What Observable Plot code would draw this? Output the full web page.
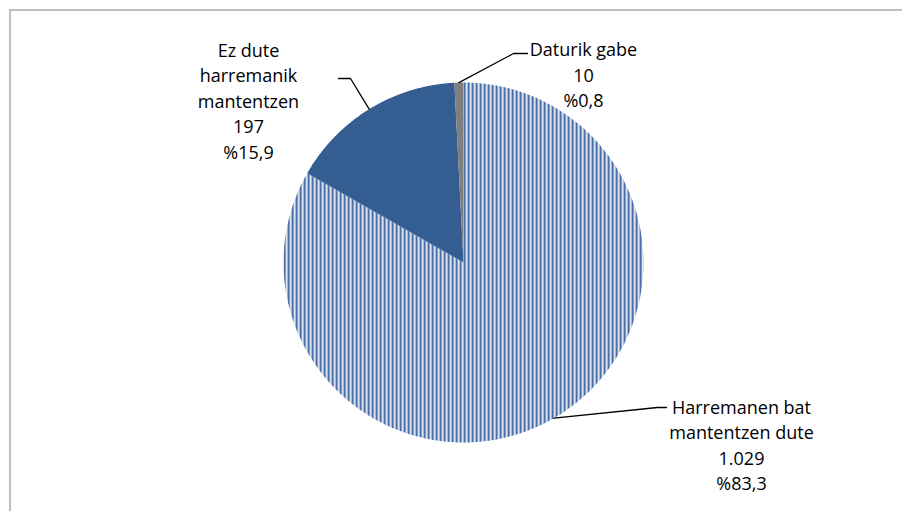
<!DOCTYPE html>
<html>
<head>
<meta charset="utf-8">
<script src="https://cdn.jsdelivr.net/npm/d3@7"></script>
<script src="https://cdn.jsdelivr.net/npm/@observablehq/plot@0.6"></script>
<style>
  html, body { margin: 0; padding: 0; background: #fff; overflow: hidden; }
  #wrap { position: relative; width: 902px; height: 511px; }
  #border { position: absolute; left: 9px; top: 9px; width: 1000px; height: 1000px;
            border-left: 2.5px solid #BFBFBF; border-top: 2.5px solid #BFBFBF; pointer-events: none; }
</style>
</head>
<body>
<div id="wrap"><div id="border"></div></div>
<script>
// ---- data ----
const categories = ["Harremanen bat mantentzen dute", "Ez dute harremanik mantentzen", "Daturik gabe"];
const counts = [1029, 197, 10];
const countLabels = ["1.029", "197", "10"];
const percentLabels = ["%83,3", "%15,9", "%0,8"];
const nameLines = [["Harremanen bat", "mantentzen dute"], ["Ez dute", "harremanik", "mantentzen"], ["Daturik gabe"]];

// ---- layout / styles ----
const cx = 463, cy = 262, r = 180;
const fills = ["url(#stripes)", "#345E91", "#7F7F7F"];
// label block centers and leader elbow/end points, in pixels
const labelPos = [[741, 443.5], [248, 99], [583, 73]];
const leaderElbow = [[657, 407], [350, 78], [513, 53]];
const leaderEnd = [[666, 407], [338, 78], [527, 53]];
const toUnit = ([px, py]) => ({x: (px - cx) / r, y: (cy - py) / r});

const arcs = d3.pie().sort(null)(counts);
const slicePoints = arcs.map((a, i) => {
  const pts = [{x: 0, y: 0, k: i}];
  const n = Math.max(2, Math.ceil((a.endAngle - a.startAngle) / 0.005));
  for (let j = 0; j <= n; j++) {
    const t = a.startAngle + (a.endAngle - a.startAngle) * j / n;
    pts.push({x: Math.sin(t), y: Math.cos(t), k: i});
  }
  pts.push({x: 0, y: 0, k: i});
  return pts;
});

const leaders = arcs.map((a, i) => {
  const m = (a.startAngle + a.endAngle) / 2;
  return [{x: Math.sin(m), y: Math.cos(m)}, toUnit(leaderElbow[i]), toUnit(leaderEnd[i])];
});

const labels = categories.map((c, i) => ({
  ...toUnit(labelPos[i]),
  text: [...nameLines[i], countLabels[i], percentLabels[i]].join("\n")
}));

const chart = Plot.plot({
  width: 902,
  height: 511,
  x: {domain: [-1, 1], range: [cx - r, cx + r], axis: null},
  y: {domain: [-1, 1], range: [cy + r, cy - r], axis: null},
  style: {fontFamily: "'Open Sans', sans-serif", fontSize: "18px", background: "transparent", overflow: "visible"},
  marks: [
    ...slicePoints.map((pts, i) => Plot.line(pts, {x: "x", y: "y", fill: fills[i], stroke: "none", curve: "linear"})),
    ...leaders.map(l => Plot.line(l, {x: "x", y: "y", stroke: "#000", strokeWidth: 1.3})),
    Plot.text(labels, {x: "x", y: "y", text: "text", fontSize: 18, lineHeight: 25.5 / 18, fill: "#000", textAnchor: "middle"})
  ]
});

const defs = d3.select(chart).insert("defs", ":first-child");
const pat = defs.append("pattern").attr("id", "stripes").attr("patternUnits", "userSpaceOnUse")
  .attr("x", cx - r).attr("y", 0).attr("width", 4).attr("height", 8);
pat.append("rect").attr("x", 0).attr("y", 0).attr("width", 4).attr("height", 8).attr("fill", "#FFFFFF");
pat.append("rect").attr("x", 0).attr("y", 0).attr("width", 2).attr("height", 8).attr("fill", "#4B70A8");
pat.append("rect").attr("x", 2).attr("y", 0).attr("width", 1).attr("height", 8).attr("fill", "#B9C8E2");

chart.style.position = "absolute";
chart.style.left = "0px";
chart.style.top = "0px";
document.getElementById("wrap").insertBefore(chart, document.getElementById("border"));
</script>
</body>
</html>
